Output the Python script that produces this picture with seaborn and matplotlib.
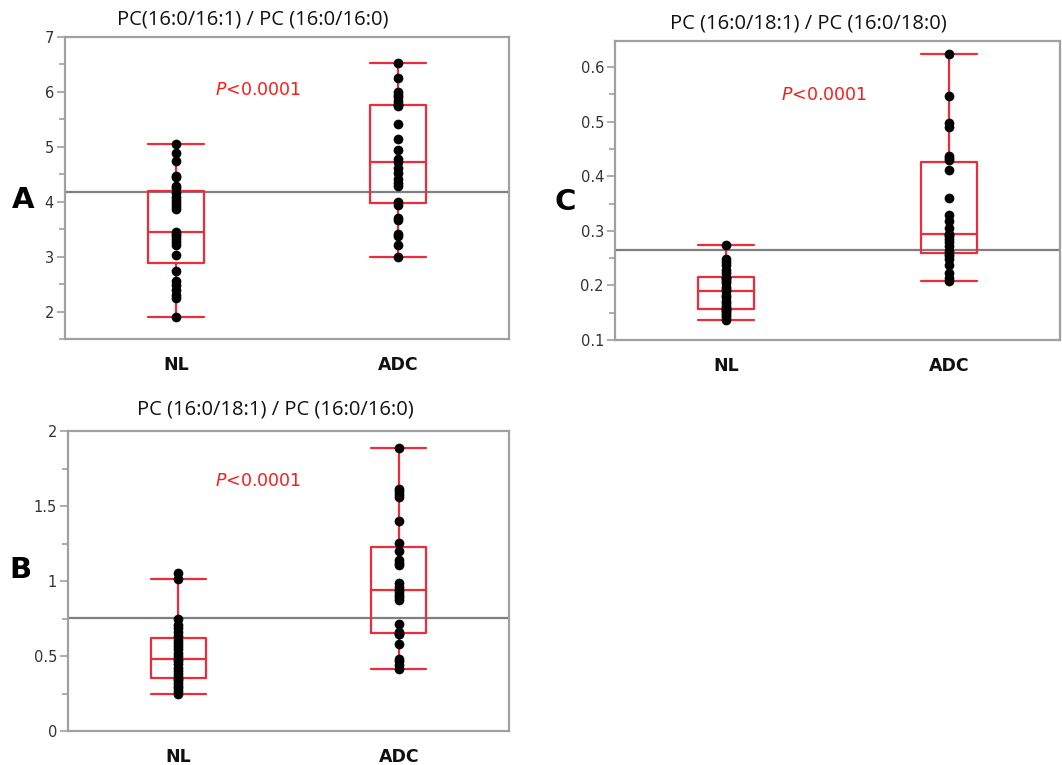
import matplotlib
matplotlib.use("Agg")
import matplotlib.pyplot as plt
import pandas as pd
import seaborn as sns
import numpy as np

# Values
groups = ["NL", "ADC"]

nl_a = [1.90, 2.25, 2.30, 2.40, 2.48, 2.55, 2.73, 3.03, 3.22, 3.27, 3.33, 3.38, 3.42, 3.45,
        3.87, 3.92, 3.97, 4.03, 4.08, 4.15, 4.25, 4.28, 4.45, 4.47, 4.75, 4.88, 5.05]
adc_a = [3.00, 3.22, 3.38, 3.42, 3.66, 3.70, 3.94, 4.00, 4.28, 4.34, 4.42, 4.52, 4.62, 4.72,
         4.77, 4.94, 5.14, 5.42, 5.74, 5.76, 5.78, 5.84, 5.90, 5.95, 6.00, 6.25, 6.53]

nl_b = [0.245, 0.265, 0.285, 0.300, 0.320, 0.338, 0.350, 0.362, 0.380, 0.400, 0.420, 0.445,
        0.465, 0.482, 0.500, 0.520, 0.545, 0.565, 0.590, 0.610, 0.634, 0.660, 0.685, 0.710,
        0.745, 1.015, 1.052]
adc_b = [0.416, 0.440, 0.465, 0.482, 0.582, 0.644, 0.650, 0.662, 0.716, 0.871, 0.893, 0.905,
         0.925, 0.942, 0.960, 0.987, 1.104, 1.120, 1.138, 1.198, 1.256, 1.400, 1.560, 1.580,
         1.600, 1.616, 1.889]

nl_c = [0.137, 0.142, 0.146, 0.150, 0.153, 0.155, 0.156, 0.158, 0.163, 0.168, 0.172, 0.178,
        0.183, 0.190, 0.194, 0.198, 0.205, 0.209, 0.212, 0.214, 0.216, 0.222, 0.228, 0.237,
        0.243, 0.249, 0.274]
adc_c = [0.208, 0.214, 0.222, 0.238, 0.248, 0.254, 0.258, 0.264, 0.272, 0.279, 0.285, 0.290,
         0.292, 0.295, 0.306, 0.318, 0.330, 0.361, 0.412, 0.430, 0.434, 0.437, 0.490, 0.497,
         0.548, 0.624]

grand_means = [4.18, 0.755, 0.265]
titles = ["PC(16:0/16:1) / PC (16:0/16:0)", "PC (16:0/18:1) / PC (16:0/16:0)",
          "PC (16:0/18:1) / PC (16:0/18:0)"]
panel_letters = ["A", "B", "C"]

red = "#ee2b3b"
grey = "#a0a0a0"

sns.set_theme(style="white")
plt.rcParams["font.family"] = ["DejaVu Sans"]

fig = plt.figure(figsize=(10.62, 7.65), dpi=100)


def make_panel(rect, nl, adc, mean, ylim, major, minor, ticklabels, title, title_xy,
               p_xy, letter, letter_xy):
    ax = fig.add_axes(rect)
    df = pd.DataFrame({"group": ["NL"] * len(nl) + ["ADC"] * len(adc),
                       "value": nl + adc})
    sns.boxplot(data=df, x="group", y="value", order=groups, width=0.25, fill=False,
                color=red, linecolor=red, linewidth=1.6, showfliers=False, whis=1.5,
                ax=ax, zorder=2)
    # caps as wide as the box
    for ln in ax.lines:
        xd = np.asarray(ln.get_xdata(), dtype=float)
        if len(xd) == 2 and xd[0] != xd[1]:
            yd = np.asarray(ln.get_ydata(), dtype=float)
            if yd[0] == yd[1]:
                c = (xd[0] + xd[1]) / 2
                ln.set_xdata([c - 0.125, c + 0.125])
    sns.stripplot(data=df, x="group", y="value", order=groups, jitter=False,
                  color="black", size=7, ax=ax, zorder=3)
    ax.axhline(mean, color="#7f7f7f", lw=1.6, zorder=1)
    ax.set_xlim(-0.5, 1.5)
    ax.set_ylim(*ylim)
    ax.set_xlabel("")
    ax.set_ylabel("")
    ax.set_yticks(major)
    ax.set_yticklabels(ticklabels)
    ax.set_yticks(minor, minor=True)
    ax.set_xticks([0, 1])
    ax.set_xticklabels(groups, fontweight="bold", fontsize=12.5, color="#111111")
    ax.set_xticks([0.5], minor=True)
    ax.tick_params(axis="x", which="major", length=0, pad=12)
    ax.tick_params(axis="x", which="minor", length=4, width=1.2, color=grey, direction="out")
    ax.tick_params(axis="y", which="major", length=6, width=1.2, color=grey, direction="out",
                   labelsize=10.5, labelcolor="#333333", pad=2, left=True)
    ax.tick_params(axis="y", which="minor", length=4, width=1.2, color=grey, direction="out",
                   left=True)
    for s in ax.spines.values():
        s.set_color(grey)
        s.set_linewidth(1.6)
    ax.text(p_xy[0], p_xy[1], r"$\it{P}$<0.0001", transform=ax.transAxes, color="#ff1a1a",
            fontsize=12.5, va="center", ha="left")
    fig.text(title_xy[0] / 1062, 1 - title_xy[1] / 765, title, ha="center", va="center",
             fontsize=14.5, family="Open Sans", color="#111111")
    fig.text(letter_xy[0] / 1062, 1 - letter_xy[1] / 765, letter, ha="center", va="center",
             fontsize=21, fontweight="bold", color="black")
    return ax


# Panel A
make_panel([65 / 1062, 1 - 339 / 765, 444 / 1062, 302 / 765], nl_a, adc_a, grand_means[0],
           (1.5, 6.97), [2, 3, 4, 5, 6, 7], np.arange(1.5, 7.0, 0.5),
           ["2", "3", "4", "5", "6", "7"], titles[0], (253, 20), (0.338, 0.825),
           panel_letters[0], (23, 200))

# Panel B
make_panel([68 / 1062, 1 - 731 / 765, 441 / 1062, 300 / 765], nl_b, adc_b, grand_means[1],
           (0, 2), [0, 0.5, 1, 1.5, 2], np.arange(0, 2.01, 0.25),
           ["0", "0.5", "1", "1.5", "2"], titles[1], (275, 410), (0.333, 0.833),
           panel_letters[1], (20, 570))

# Panel C
make_panel([615 / 1062, 1 - 340 / 765, 445 / 1062, 299 / 765], nl_c, adc_c, grand_means[2],
           (0.1, 0.648), [0.1, 0.2, 0.3, 0.4, 0.5, 0.6], np.arange(0.1, 0.65, 0.05),
           ["0.1", "0.2", "0.3", "0.4", "0.5", "0.6"], titles[2], (808, 23), (0.373, 0.819),
           panel_letters[2], (565, 202))

fig.savefig("out.png", dpi=100)
